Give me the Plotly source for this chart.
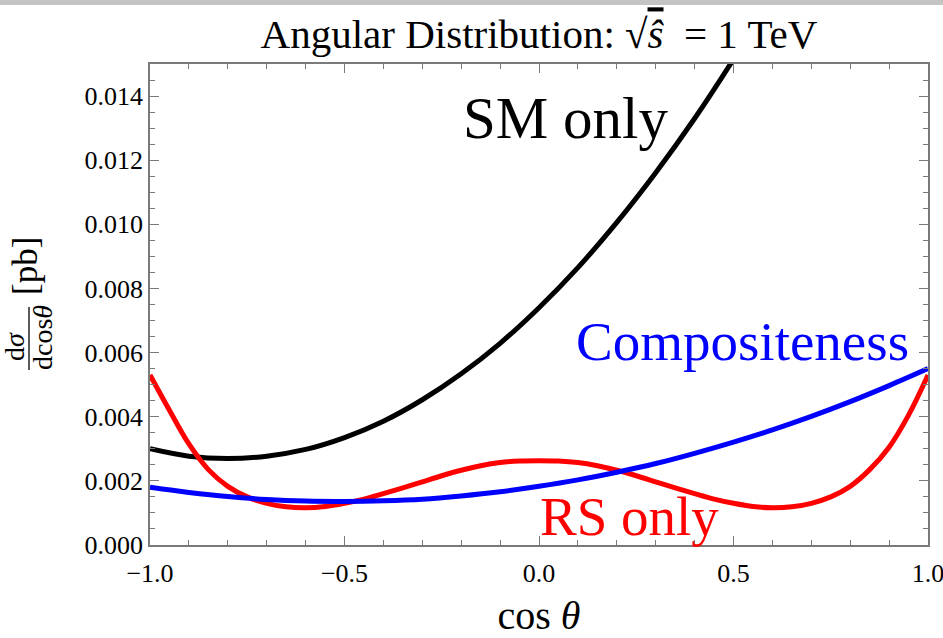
import plotly.graph_objects as go

# cos(theta) sample points
cos_coarse = [-1.0, -0.9, -0.8, -0.7, -0.6, -0.5, -0.4, -0.3, -0.2, -0.1,
              0.0, 0.1, 0.2, 0.3, 0.4, 0.5, 0.6, 0.7, 0.8, 0.9, 1.0]
cos_fine = [-1.0, -0.95, -0.9, -0.85, -0.8, -0.75, -0.7, -0.65, -0.6, -0.55,
            -0.5, -0.45, -0.4, -0.35, -0.3, -0.25, -0.2, -0.15, -0.1, -0.05,
            0.0, 0.05, 0.1, 0.15, 0.2, 0.25, 0.3, 0.35, 0.4, 0.45,
            0.5, 0.55, 0.6, 0.65, 0.7, 0.75, 0.8, 0.85, 0.9, 0.95, 1.0]

# dsigma/dcos(theta) in pb
sm_only = [0.00300, 0.00277, 0.00270, 0.00277, 0.00298, 0.00335, 0.00386,
           0.00453, 0.00534, 0.00629, 0.00740, 0.00865, 0.01006, 0.01161,
           0.01330, 0.01515, 0.01714, 0.01928, 0.02157, 0.02400, 0.02660]
compositeness = [0.00180, 0.00164, 0.00151, 0.00142, 0.00137, 0.00136, 0.00138,
                 0.00143, 0.00153, 0.00166, 0.00183, 0.00203, 0.00227,
                 0.00254, 0.00286, 0.00321, 0.00359, 0.00401, 0.00447,
                 0.00497, 0.00550]
rs_only = [0.00530, 0.00420, 0.00315, 0.00235, 0.00183, 0.00150, 0.00130,
           0.00119, 0.00116, 0.00120, 0.00130, 0.00143, 0.00160, 0.00178,
           0.00197, 0.00216, 0.00233, 0.00247, 0.00257, 0.00262, 0.00263,
           0.00262, 0.00257, 0.00247, 0.00233, 0.00216, 0.00197, 0.00178,
           0.00160, 0.00143, 0.00130, 0.00120, 0.00116, 0.00119, 0.00130,
           0.00150, 0.00183, 0.00235, 0.00305, 0.00405, 0.00530]

x_ticks = [-1.0, -0.5, 0.0, 0.5, 1.0]
y_ticks = [0.000, 0.002, 0.004, 0.006, 0.008, 0.010, 0.012, 0.014]

SERIF = "Liberation Serif, Times New Roman, serif"
FRAME = "#7a7a7a"

fig = go.Figure()
fig.add_trace(go.Scatter(x=cos_coarse, y=sm_only, mode="lines",
                         line=dict(color="black", width=5, shape="spline"),
                         name="SM only"))
fig.add_trace(go.Scatter(x=cos_fine, y=rs_only, mode="lines",
                         line=dict(color="#ff0000", width=5, shape="spline"),
                         name="RS only"))
fig.add_trace(go.Scatter(x=cos_coarse, y=compositeness, mode="lines",
                         line=dict(color="#0000ff", width=5, shape="spline"),
                         name="Compositeness"))

L, R, T, B = 150, 15, 64, 93
W, H = 943, 638
pw, ph = W - L - R, H - T - B


def px(xp):
    return (xp - L) / pw


def py(yp):
    return (H - B - yp) / ph


axis_common = dict(showline=True, linecolor=FRAME, linewidth=1.5, mirror="allticks",
                   ticks="inside", tickcolor=FRAME, ticklen=9, tickwidth=1,
                   showgrid=False, zeroline=False, automargin=False,
                   ticklabeloverflow="allow",
                   tickfont=dict(family=SERIF, size=26, color="black"))

fig.update_xaxes(range=[-1.0, 1.0], tickvals=x_ticks, tickformat=".1f",
                 ticklabelstandoff=4,
                 minor=dict(dtick=0.1, ticks="inside", ticklen=5, tickcolor=FRAME, showgrid=False),
                 title=dict(text="cos <i>θ</i>", font=dict(family=SERIF, size=40, color="black"),
                            standoff=20),
                 **axis_common)
fig.update_yaxes(range=[0.0, 0.015], tickvals=y_ticks, tickformat=".3f",
                 minor=dict(dtick=0.0005, ticks="inside", ticklen=5, tickcolor=FRAME, showgrid=False),
                 **axis_common)

annotations = [
    dict(text="SM only", x=px(565), y=py(118), font=dict(family=SERIF, size=59, color="black")),
    dict(text="Compositeness", x=px(742), y=py(341), font=dict(family=SERIF, size=55, color="#0000ff")),
    dict(text="RS only", x=px(629), y=py(516), font=dict(family=SERIF, size=55, color="#ff0000")),
    # y-axis label built as a rotated fraction
    dict(text="d<i>σ</i>", x=px(14), y=py(347), textangle=-90, font=dict(family=SERIF, size=28, color="black")),
    dict(text="dcos<i>θ</i>", x=px(43), y=py(338), textangle=-90, font=dict(family=SERIF, size=28, color="black")),
    dict(text="[pb]", x=px(25), y=py(266), textangle=-90, font=dict(family=SERIF, size=35, color="black")),
]
for a in annotations:
    a.update(xref="paper", yref="paper", showarrow=False, xanchor="center", yanchor="middle")

shapes = [
    dict(type="line", xref="paper", yref="paper", x0=px(29), x1=px(29), y0=py(307), y1=py(370),
         line=dict(color="black", width=1.3)),
    dict(type="rect", xref="paper", yref="paper", x0=px(0), x1=px(W), y0=py(0), y1=py(5),
         fillcolor="#c4c4c4", line=dict(width=0), layer="above"),
]

fig.update_layout(
    width=W, height=H,
    margin=dict(l=L, r=R, t=T, b=B),
    paper_bgcolor="white", plot_bgcolor="white",
    showlegend=False,
    title=dict(text="Angular Distribution: √<span style='text-decoration:overline'><i>ŝ</i></span>\u2002= 1 TeV",
               x=0.5, xref="paper", xanchor="center",
               y=1 - 34 / H, yref="container", yanchor="middle",
               font=dict(family=SERIF, size=41, color="black")),
    annotations=annotations,
    shapes=shapes,
)

fig.write_html("out.html")
